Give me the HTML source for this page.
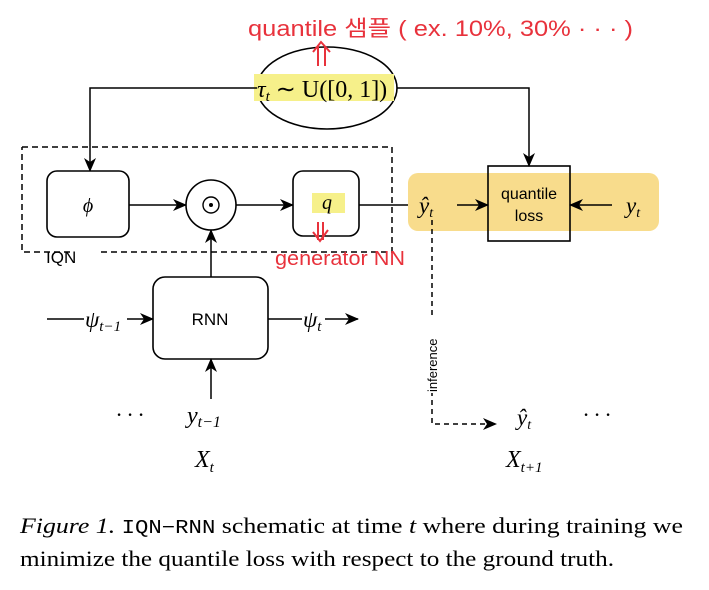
<!DOCTYPE html>
<html><head><meta charset="utf-8"><style>
html,body{margin:0;padding:0;background:#fff;}
svg{display:block;}
.m{font-family:"Liberation Serif",serif;font-style:italic;}
.s{font-family:"Liberation Sans",sans-serif;}
.r{font-family:"Liberation Sans","Noto Sans CJK KR",sans-serif;fill:#e8323c;}
</style></head><body>
<svg width="709" height="590" viewBox="0 0 709 590" xmlns="http://www.w3.org/2000/svg">
<defs>
<marker id="a" markerWidth="14" markerHeight="14" refX="13" refY="7" orient="auto" markerUnits="userSpaceOnUse">
<path d="M0,1 L14,7 L0,13 L4,7 Z" fill="#000"/></marker>
</defs>
<rect x="408" y="173" width="251" height="58" rx="10" fill="#f8dc8c"/>
<path d="M22,147 H392 V252 H100 M70,252 H22 V147" fill="none" stroke="#000" stroke-width="1.5" stroke-dasharray="6,4"/>
<text x="46" y="263" class="s" font-size="17">IQN</text>
<ellipse cx="327" cy="88" rx="70" ry="41" fill="#fff" stroke="#000" stroke-width="1.6"/>
<rect x="254" y="74" width="140" height="27" fill="#f6f08a"/>
<text x="257" y="97" class="m" font-size="24">τ<tspan font-size="15" dy="4">t</tspan><tspan dy="-4" font-style="normal"> ∼ U([0, 1])</tspan></text>
<path d="M257,88 H90 V171" fill="none" stroke="#000" stroke-width="1.5" marker-end="url(#a)"/>
<path d="M397,88 H529 V166" fill="none" stroke="#000" stroke-width="1.5" marker-end="url(#a)"/>
<rect x="47" y="171" width="82" height="66" rx="10" fill="#fff" stroke="#000" stroke-width="1.6"/>
<text x="88" y="212" class="m" font-size="20" text-anchor="middle">ϕ</text>
<path d="M129,205 H186" stroke="#000" stroke-width="1.5" marker-end="url(#a)"/>
<circle cx="211" cy="205" r="25" fill="#fff" stroke="#000" stroke-width="1.6"/>
<circle cx="211" cy="205" r="8" fill="none" stroke="#000" stroke-width="1.4"/>
<circle cx="211" cy="205" r="2" fill="#000"/>
<path d="M236,205 H293" stroke="#000" stroke-width="1.5" marker-end="url(#a)"/>
<rect x="293" y="171" width="66" height="65" rx="10" fill="#fff" stroke="#000" stroke-width="1.6"/>
<rect x="312" y="193" width="33" height="20" fill="#f6f08a"/>
<text x="322" y="209" class="m" font-size="20">q</text>
<path d="M359,205 H408" stroke="#000" stroke-width="1.5"/>
<path d="M211,277 V230" stroke="#000" stroke-width="1.5" marker-end="url(#a)"/>
<rect x="153" y="277" width="115" height="82" rx="12" fill="#fff" stroke="#000" stroke-width="1.6"/>
<text x="210" y="325" class="s" font-size="17" text-anchor="middle">RNN</text>
<path d="M47,319 H84" stroke="#000" stroke-width="1.5"/>
<text x="85" y="327" class="m" font-size="23">ψ<tspan font-size="15" dy="4">t−1</tspan></text>
<path d="M127,319 H153" stroke="#000" stroke-width="1.5" marker-end="url(#a)"/>
<path d="M268,319 H302" stroke="#000" stroke-width="1.5"/>
<text x="303" y="327" class="m" font-size="23">ψ<tspan font-size="15" dy="4">t</tspan></text>
<path d="M325,319 H358" stroke="#000" stroke-width="1.5" marker-end="url(#a)"/>
<path d="M211,399 V359" stroke="#000" stroke-width="1.5" marker-end="url(#a)"/>
<text x="116" y="422" class="m" font-size="22" font-style="normal">· · ·</text>
<text x="187" y="423" class="m" font-size="24">y<tspan font-size="16" dy="4">t−1</tspan></text>
<text x="195" y="467" class="m" font-size="24">X<tspan font-size="15" dy="5">t</tspan></text>
<text x="419" y="213" class="m" font-size="23">ŷ<tspan font-size="14" dy="4">t</tspan></text>
<path d="M457,205 H488" stroke="#000" stroke-width="1.5" marker-end="url(#a)"/>
<rect x="488" y="166" width="82" height="75" fill="none" stroke="#000" stroke-width="1.6"/>
<text x="529" y="199" class="s" font-size="16" text-anchor="middle">quantile</text>
<text x="529" y="221" class="s" font-size="16" text-anchor="middle">loss</text>
<path d="M612,205 H570" stroke="#000" stroke-width="1.5" marker-end="url(#a)"/>
<text x="626" y="213" class="m" font-size="23">y<tspan font-size="14" dy="4">t</tspan></text>
<path d="M432,220 V424 H496" fill="none" stroke="#000" stroke-width="1.5" stroke-dasharray="5,4" marker-end="url(#a)"/>
<rect x="424" y="315" width="16" height="78" fill="#fff"/>
<text transform="translate(437,392) rotate(-90)" class="s" font-size="13">inference</text>
<text x="517" y="425" class="m" font-size="23">ŷ<tspan font-size="14" dy="4">t</tspan></text>
<text x="583" y="422" class="m" font-size="22" font-style="normal">· · ·</text>
<text x="506" y="467" class="m" font-size="24">X<tspan font-size="15" dy="5">t+1</tspan></text>
<text x="248" y="36" class="r" font-size="22" textLength="385" lengthAdjust="spacingAndGlyphs">quantile 샘플 ( ex. 10%, 30% · · · )</text>
<path d="M318,66 V46 M325,66 V46 M313,52 L321,42 L330,52" fill="none" stroke="#e8323c" stroke-width="2"/>
<text x="275" y="265" class="r" font-size="20" textLength="130" lengthAdjust="spacingAndGlyphs">generator NN</text>
<path d="M318,222 V240 M323,222 V240 M313,232 L320,241 L328,230" fill="none" stroke="#e8323c" stroke-width="2"/>
<text x="20" y="533" font-family="Liberation Serif,serif" font-size="22" textLength="663" lengthAdjust="spacingAndGlyphs"><tspan font-style="italic">Figure 1.</tspan> <tspan font-family="Liberation Mono,monospace" font-size="19">IQN−RNN</tspan> schematic at time <tspan font-style="italic">t</tspan> where during training we</text>
<text x="20" y="566" font-family="Liberation Serif,serif" font-size="22" textLength="594" lengthAdjust="spacingAndGlyphs">minimize the quantile loss with respect to the ground truth.</text>
</svg>
</body></html>
